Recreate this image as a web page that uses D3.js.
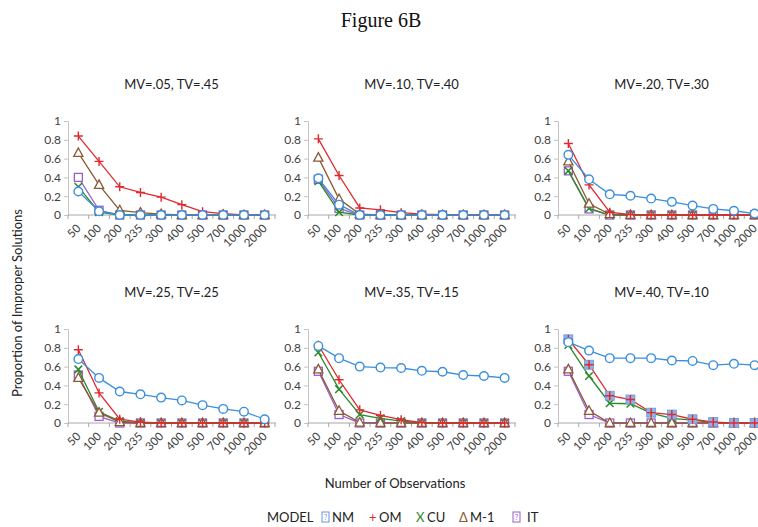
<!DOCTYPE html>
<html>
<head>
<meta charset="utf-8">
<script src="https://cdn.jsdelivr.net/npm/d3@7/dist/d3.min.js"></script>
<style>
  html, body { margin: 0; padding: 0; background: #fff; }
  svg { display: block; }
</style>
</head>
<body>
<script>
// Sample sizes along each panel's category axis
const categories = ["50", "100", "200", "235", "300", "400", "500", "700", "1000", "2000"];
const yTicks = [0, 0.2, 0.4, 0.6, 0.8, 1];

const panelTitles = [
  "MV=.05, TV=.45", "MV=.10, TV=.40", "MV=.20, TV=.30",
  "MV=.25, TV=.25", "MV=.35, TV=.15", "MV=.40, TV=.10"
];

const modelNames = ["NM", "OM", "CU", "M-1", "IT"];

// Proportion of improper solutions, one array per panel and model
const nmValues = [
  [0.25, 0.04, 0, 0, 0, 0, 0, 0, 0, 0],
  [0.39, 0.11, 0, 0, 0, 0, 0, 0, 0, 0],
  [0.64, 0.38, 0.22, 0.205, 0.175, 0.14, 0.10, 0.065, 0.045, 0.015],
  [0.68, 0.48, 0.335, 0.305, 0.27, 0.24, 0.19, 0.15, 0.12, 0.04],
  [0.82, 0.69, 0.60, 0.59, 0.585, 0.555, 0.545, 0.51, 0.50, 0.48],
  [0.86, 0.77, 0.69, 0.69, 0.69, 0.665, 0.66, 0.615, 0.63, 0.615]
];
const omValues = [
  [0.84, 0.57, 0.30, 0.24, 0.19, 0.11, 0.035, 0.015, 0, 0],
  [0.81, 0.42, 0.075, 0.055, 0.025, 0.01, 0.005, 0, 0, 0],
  [0.76, 0.32, 0.03, 0.005, 0, 0, 0, 0, 0, 0],
  [0.78, 0.32, 0.04, 0.01, 0, 0, 0, 0, 0, 0],
  [0.83, 0.46, 0.14, 0.08, 0.035, 0.005, 0, 0, 0, 0],
  [0.89, 0.62, 0.29, 0.25, 0.11, 0.09, 0.04, 0.01, 0, 0]
];
const cuValues = [
  [0.30, 0.03, 0, 0, 0, 0, 0, 0, 0, 0],
  [0.36, 0.03, 0, 0, 0, 0, 0, 0, 0, 0],
  [0.47, 0.07, 0, 0, 0, 0, 0, 0, 0, 0],
  [0.57, 0.12, 0.02, 0, 0, 0, 0, 0, 0, 0],
  [0.75, 0.36, 0.09, 0.05, 0.02, 0, 0, 0, 0, 0],
  [0.83, 0.50, 0.21, 0.205, 0.105, 0.05, 0.03, 0.005, 0, 0]
];
const m1Values = [
  [0.66, 0.32, 0.05, 0.025, 0.01, 0, 0, 0, 0, 0],
  [0.61, 0.17, 0.01, 0, 0, 0, 0, 0, 0, 0],
  [0.57, 0.12, 0.01, 0, 0, 0, 0, 0, 0, 0],
  [0.48, 0.11, 0.01, 0, 0, 0, 0, 0, 0, 0],
  [0.57, 0.13, 0.005, 0, 0, 0, 0, 0, 0, 0],
  [0.57, 0.13, 0, 0, 0, 0, 0, 0, 0, 0]
];
const itValues = [
  [0.40, 0.05, 0, 0, 0, 0, 0, 0, 0, 0],
  [0.38, 0.07, 0, 0, 0, 0, 0, 0, 0, 0],
  [0.47, 0.065, 0, 0, 0, 0, 0, 0, 0, 0],
  [0.51, 0.07, 0, 0, 0, 0, 0, 0, 0, 0],
  [0.55, 0.09, 0, 0, 0, 0, 0, 0, 0, 0],
  [0.55, 0.09, 0, 0, 0, 0, 0, 0, 0, 0]
];

// Panels whose OM markers sit on a shaded square
const omShadedPanels = [5];

const W = 758, H = 527;
const font = "Lato, 'Open Sans', 'Liberation Sans', sans-serif";
const tickColor = "#404040";

const series = {
  "NM":  { values: nmValues, color: "#3b8fdc", marker: "circle" },
  "OM":  { values: omValues, color: "#e0282e", marker: "plus" },
  "CU":  { values: cuValues, color: "#2a8a2a", marker: "cross" },
  "M-1": { values: m1Values, color: "#8a5a32", marker: "triangle" },
  "IT":  { values: itValues, color: "#9a5fcf", marker: "square" }
};
// Bottom-most series first
const drawOrder = ["IT", "CU", "M-1", "OM", "NM"];

const svg = d3.select("body").append("svg")
  .attr("width", W).attr("height", H);

svg.append("text")
  .attr("x", 381).attr("y", 27)
  .attr("text-anchor", "middle")
  .attr("font-family", "'Liberation Serif', 'Times New Roman', serif")
  .attr("font-size", 20).attr("fill", "#111")
  .text("Figure 6B");

const plotW = 207, plotH = 94;
const colX = [68, 308, 558];
const rowBottom = [215, 423];

function drawMarker(g, type, cx, cy, color) {
  if (type === "circle") {
    g.append("circle").attr("cx", cx).attr("cy", cy).attr("r", 4.3)
      .attr("fill", "white").attr("stroke", color).attr("stroke-width", 1.4);
  } else if (type === "square") {
    g.append("rect").attr("x", cx - 4).attr("y", cy - 4).attr("width", 8).attr("height", 8)
      .attr("fill", "white").attr("stroke", color).attr("stroke-width", 1.3);
  } else if (type === "triangle") {
    g.append("path")
      .attr("d", `M${cx},${cy - 5}L${cx + 4.6},${cy + 3.5}L${cx - 4.6},${cy + 3.5}Z`)
      .attr("fill", "white").attr("stroke", color).attr("stroke-width", 1.3);
  } else if (type === "plus") {
    g.append("path")
      .attr("d", `M${cx - 4.5},${cy}H${cx + 4.5}M${cx},${cy - 4.5}V${cy + 4.5}`)
      .attr("stroke", color).attr("stroke-width", 1.4);
  } else if (type === "cross") {
    g.append("path")
      .attr("d", `M${cx - 3.8},${cy - 3.8}L${cx + 3.8},${cy + 3.8}M${cx + 3.8},${cy - 3.8}L${cx - 3.8},${cy + 3.8}`)
      .attr("stroke", color).attr("stroke-width", 1.5);
  }
}

panelTitles.forEach((title, p) => {
  const col = p % 3, row = Math.floor(p / 3);
  const x0 = colX[col], y0 = rowBottom[row];

  const x = d3.scaleBand().domain(categories).range([x0, x0 + plotW]).padding(0);
  const y = d3.scaleLinear().domain([0, 1]).range([y0, y0 - plotH]);
  const cx = c => x(c) + x.bandwidth() / 2;

  const g = svg.append("g");

  g.append("text")
    .attr("x", x0 + plotW / 2).attr("y", y0 - plotH - 32)
    .attr("text-anchor", "middle")
    .attr("font-family", font).attr("font-size", 13).attr("fill", "#222")
    .text(title);

  // Value axis
  const yAxis = d3.axisLeft(y).tickValues(yTicks).tickSize(4).tickPadding(3)
    .tickFormat(d3.format("~g"));
  const ya = g.append("g").attr("transform", `translate(${x0},0)`).call(yAxis);
  ya.select(".domain").attr("stroke", "#c4c4c4");
  ya.selectAll(".tick line").attr("stroke", "#c4c4c4");
  ya.selectAll(".tick text").attr("font-family", font).attr("font-size", 12).attr("fill", tickColor);

  // Category axis: line, tick marks between categories, rotated labels
  g.append("line").attr("x1", x0).attr("x2", x0 + plotW + 1)
    .attr("y1", y0).attr("y2", y0).attr("stroke", "#a8a8a8").attr("stroke-width", 1);
  d3.range(categories.length + 1).forEach(i => {
    const tx = x0 + i * x.bandwidth();
    g.append("line").attr("x1", tx).attr("x2", tx).attr("y1", y0).attr("y2", y0 + 4)
      .attr("stroke", "#a8a8a8");
  });
  categories.forEach(c => {
    const ax = cx(c) + 3, ay = y0 + 14;
    g.append("text")
      .attr("transform", `translate(${ax},${ay}) rotate(-45)`)
      .attr("text-anchor", "end")
      .attr("font-family", font).attr("font-size", 11.5).attr("fill", tickColor)
      .text(c);
  });

  const line = d3.line().x((d, i) => cx(categories[i])).y(d => y(d));

  drawOrder.forEach(name => {
    const s = series[name];
    const vals = s.values[p];
    g.append("path").datum(vals).attr("d", line)
      .attr("fill", "none").attr("stroke", s.color).attr("stroke-width", 1.3);
    const mg = g.append("g");
    vals.forEach((v, i) => {
      const px = cx(categories[i]), py = y(v);
      if (name === "OM" && omShadedPanels.includes(p)) {
        mg.append("rect").attr("x", px - 4.5).attr("y", py - 4.5).attr("width", 9).attr("height", 9)
          .attr("fill", "#8fb3e6").attr("stroke", "#6f9bd8").attr("stroke-width", 0.8);
      }
      drawMarker(mg, s.marker, px, py, s.color);
    });
  });
});

// Shared axis titles
svg.append("text")
  .attr("transform", "translate(22,303) rotate(-90)")
  .attr("text-anchor", "middle")
  .attr("font-family", font).attr("font-size", 13).attr("fill", "#222")
  .text("Proportion of Improper Solutions");

svg.append("text")
  .attr("x", 395).attr("y", 488)
  .attr("text-anchor", "middle")
  .attr("font-family", font).attr("font-size", 13).attr("fill", "#222")
  .text("Number of Observations");

// Legend
const legY = 522;
const lg = svg.append("g").attr("font-family", font).attr("font-size", 13).attr("fill", "#222");
lg.append("text").attr("x", 267).attr("y", legY).text("MODEL");

function boxGlyph(xPos, color) {
  lg.append("rect").attr("x", xPos).attr("y", legY - 10).attr("width", 7).attr("height", 10)
    .attr("fill", "none").attr("stroke", color).attr("stroke-width", 1);
  lg.append("text").attr("x", xPos + 3.5).attr("y", legY - 2.5).attr("text-anchor", "middle")
    .attr("font-size", 7).attr("fill", color).text("?");
}

const legendItems = [
  { name: "NM", glyph: "box", gx: 322, tx: 332 },
  { name: "OM", glyph: "+", gx: 369, tx: 379 },
  { name: "CU", glyph: "X", gx: 416, tx: 427 },
  { name: "M-1", glyph: "Δ", gx: 459, tx: 470 },
  { name: "IT", glyph: "box", gx: 513, tx: 527 }
];
legendItems.forEach(it => {
  const color = series[it.name].color;
  if (it.glyph === "box") {
    boxGlyph(it.gx, it.name === "NM" ? "#6d93cf" : color);
  } else {
    lg.append("text").attr("x", it.gx).attr("y", legY).attr("fill", color).text(it.glyph);
  }
  lg.append("text").attr("x", it.tx).attr("y", legY).text(it.name);
});
</script>
</body>
</html>
